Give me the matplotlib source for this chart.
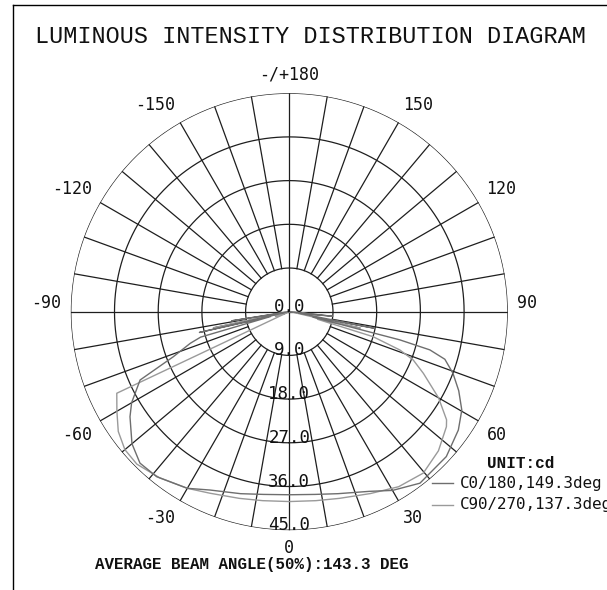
import numpy as np
import matplotlib
matplotlib.use("Agg")
import matplotlib.pyplot as plt
from matplotlib.lines import Line2D

# intensity rings (cd) and angle labels
rings = [9, 18, 27, 36, 45]
ring_labels = ["0.0", "9.0", "18.0", "27.0", "36.0", "45.0"]
angle_ticks = [0, 30, 60, 90, 120, 150, 180, -150, -120, -90, -60, -30]
angle_labels = ["0", "30", "60", "90", "120", "150", "-/+180",
                "-150", "-120", "-90", "-60", "-30"]

# C0/180 plane (negative angles = C180 side)
c0_theta = [-90, -84, -81, -79, -77, -75.5, -74, -72.3, -68.8, -65.4, -60,
            -56.6, -50, -44.6, -38.8, -30, -24, -15, -8, 0, 8, 15, 24, 30,
            37.3, 47.3, 55, 60.3, 65, 69.4, 73, 74.8, 75.7, 77, 79, 81, 84, 90]
c0_cd = [0, 0.5, 12, 1, 19, 4, 19, 21.4, 25.6, 33.8, 37.5,
         39.3, 42.3, 43.8, 43.6, 42, 40.2, 38.8, 38, 37.7, 38, 38.8, 40.5, 42.5,
         44.4, 44.0, 42.5, 40.9, 38.5, 36, 33.5, 30, 23.5, 5, 18, 2, 9, 0]

# C90/270 plane
c90_theta = [-90, -82, -78, -75, -72, -68, -65.5, -64.7, -60, -55, -50, -45,
             -38, -30, -23.6, -15, -8, 0, 8, 15, 24, 32, 39.7, 47, 53.8, 55.5,
             60, 65.3, 68.7, 70.9, 73.4, 75, 77, 80, 84, 90]
c90_cd = [0, 1, 16, 1, 3, 1, 0.5, 39.3, 41, 43, 44.2, 44.4,
          43.4, 42, 40.8, 39.8, 39.3, 39.1, 39.3, 39.8, 41, 42.5, 43.2, 42, 40.1, 39.3,
          35.5, 30.4, 27.4, 24.1, 18, 6, 15, 1, 6, 0]

W, H = 607, 590
fig = plt.figure(figsize=(W / 100, H / 100), dpi=100)

cx, cy, R = 289.3, 311.7, 218.5
ax = fig.add_axes([(cx - R) / W, 1 - (cy + R) / H, 2 * R / W, 2 * R / H],
                  projection="polar")
ax.set_theta_zero_location("S")
ax.set_theta_direction(1)
ax.set_ylim(0, 45)
ax.axis("off")

grid_c = "#1e1e1e"
t = np.linspace(0, 2 * np.pi, 721)
for rr in rings:
    ax.plot(t, np.full_like(t, rr), color=grid_c, lw=0.9)
for a in range(0, 360, 10):
    r0 = 0 if a % 90 == 0 else 9
    ax.plot([np.deg2rad(a)] * 2, [r0, 45], color=grid_c, lw=0.9)

ax.plot(np.deg2rad(c90_theta), c90_cd, color="#9a9a9a", lw=1.0)
ax.plot(np.deg2rad(c0_theta), c0_cd, color="#6e6e6e", lw=1.0)

mono = "DejaVu Sans Mono"
for i, lab in enumerate(ring_labels):
    ax.text(0, i * 9, lab, ha="center", va="baseline", fontsize=12.5,
            family=mono, color="#111111")

for a, lab in zip(angle_ticks, angle_labels):
    if a in (0, 180):
        ha = "center"
    elif a > 0:
        ha = "left"
    else:
        ha = "right"
    va = "top" if abs(a) < 90 else "bottom"
    ax.text(np.deg2rad(a), 46.9, lab, ha=ha, va=va,
            fontsize=12, family=mono, color="#111111")

# frame
fig.add_artist(Line2D([13 / W, 13 / W], [0, 1 - 5 / H], color="black", lw=1.0))
fig.add_artist(Line2D([13 / W, 1], [1 - 5 / H, 1 - 5 / H], color="black", lw=1.0))

fig.text(35 / W, 1 - 36.5 / H, "LUMINOUS INTENSITY DISTRIBUTION DIAGRAM",
         ha="left", va="center", family="Liberation Mono", fontsize=16.9,
         color="#111111")

fig.text(486.7 / W, 1 - 463 / H, "UNIT:cd", ha="left", va="center",
         family="Liberation Mono", weight="bold", fontsize=11.5, color="#111111")
for yy, col, lab in [(483.3, "#6e6e6e", "C0/180,149.3deg"),
                     (505, "#9a9a9a", "C90/270,137.3deg")]:
    fig.add_artist(Line2D([431.7 / W, 453.3 / W], [1 - yy / H] * 2, color=col, lw=1.0))
    fig.text(460 / W, 1 - yy / H, lab, ha="left", va="center", family=mono,
             fontsize=11.4, color="#111111")

fig.text(95 / W, 1 - 564 / H, "AVERAGE BEAM ANGLE(50%):143.3 DEG",
         ha="left", va="center", family="Liberation Mono", weight="bold",
         fontsize=11.4, color="#111111")

fig.savefig("out.png", dpi=100, facecolor="white")
